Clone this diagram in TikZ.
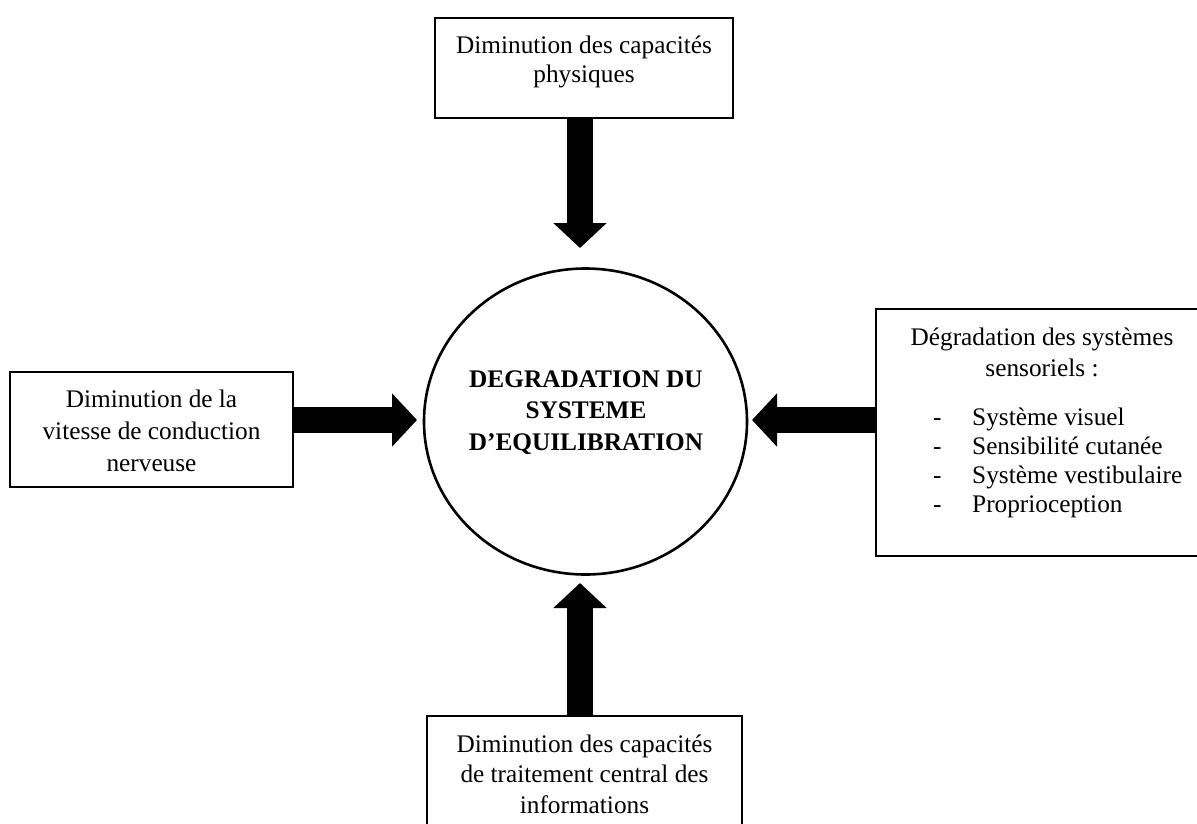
\documentclass[tikz,border=0pt]{standalone}
\usepackage{fontspec}
\setmainfont{Liberation Serif}
\usetikzlibrary{arrows.meta,shapes.geometric}
\newcommand{\mylines}[1]{\begin{tabular}[t]{@{}c@{}}#1\end{tabular}}
\begin{document}
\begin{tikzpicture}[x=1pt,y=-1pt,
  box/.style={draw, line width=2.6pt, rectangle, inner sep=0pt},
  txt/.style={anchor=base, inner sep=0pt, font=\fontsize{25.3}{#1}\selectfont},
  txt/.default=30,
  bigarrow/.style={line width=26pt, -{Triangle[width=52pt,length=25pt]}},
]
\useasboundingbox (0,0) rectangle (1197,823);
% boxes
\node[box, minimum width=298pt, minimum height=100pt] (topbox) at (584,68) {};
\node[box, minimum width=283pt, minimum height=115pt] (leftbox) at (151.5,429.5) {};
\node[box, minimum width=339pt, minimum height=247pt] (rightbox) at (1045.5,432.5) {};
\node[box, minimum width=315pt, minimum height=124pt] (botbox) at (584.5,778) {};
\node[draw, ellipse, line width=2.6pt, inner sep=0pt, minimum width=323pt, minimum height=306pt] (core) at (585.5,421.5) {};
% texts
\node[txt=29] (toptext) at (584,53) {\mylines{Diminution des capacités\\physiques}};
\node[txt=32] (lefttext) at (151.5,407) {\mylines{Diminution de la\\vitesse de conduction\\nerveuse}};
\node[txt=30.5] (bottext) at (584.5,752) {\mylines{Diminution des capacités\\de traitement central des\\informations}};
\node[txt=31] (righthead) at (1042,345) {\mylines{Dégradation des systèmes\\sensoriels :}};
\node[txt=29, anchor=base west] (rightlist) at (933,425) {\begin{tabular}[t]{@{}p{39pt}@{}l@{}}
-&Système visuel\\
-&Sensibilité cutanée\\
-&Système vestibulaire\\
-&Proprioception
\end{tabular}};
\node[txt=31.5, font=\fontsize{25.3}{31.5}\selectfont\bfseries] (coretext) at (586,387) {\mylines{DEGRADATION DU\\SYSTEME\\D’EQUILIBRATION}};
% arrows
\coordinate (ttip) at (580,248);
\coordinate (btip) at (580,583);
\coordinate (ltip) at (417,420);
\coordinate (rtip) at (752,420);
\draw[bigarrow] (topbox.south -| ttip) -- (ttip);
\draw[bigarrow] (botbox.north -| btip) -- (btip);
\draw[bigarrow] (leftbox.east |- ltip) -- (ltip);
\draw[bigarrow] (rightbox.west |- rtip) -- (rtip);
\end{tikzpicture}
\end{document}
